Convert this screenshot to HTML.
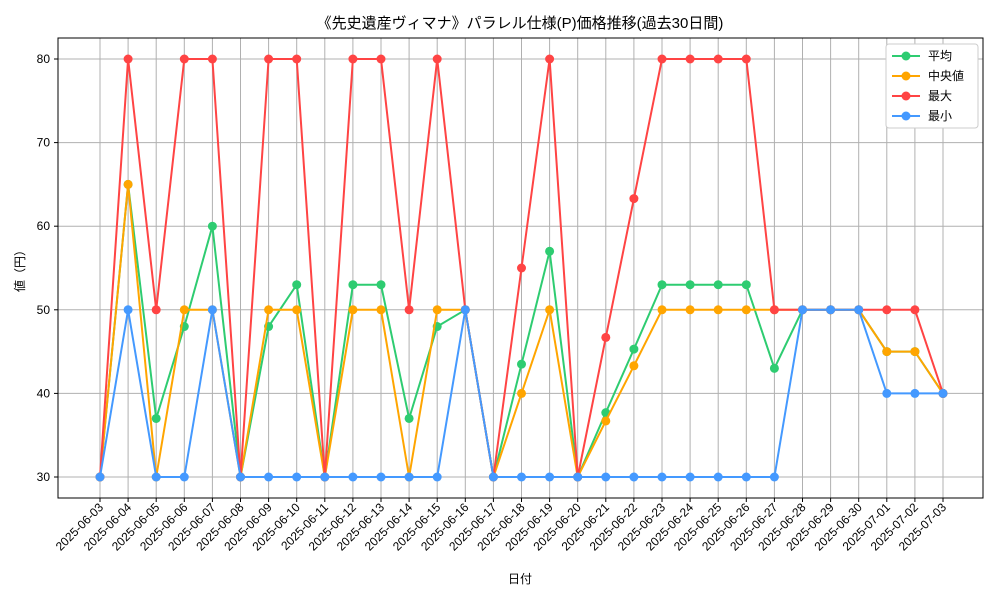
<!DOCTYPE html>
<html><head><meta charset="utf-8"><style>body{margin:0;background:#fff}svg{font-family:"Liberation Sans","Noto Sans CJK JP",sans-serif}</style></head>
<body>
<svg id="c" width="1000" height="600"></svg>
<script>
const dates=["2025-06-03","2025-06-04","2025-06-05","2025-06-06","2025-06-07","2025-06-08","2025-06-09","2025-06-10","2025-06-11","2025-06-12","2025-06-13","2025-06-14","2025-06-15","2025-06-16","2025-06-17","2025-06-18","2025-06-19","2025-06-20","2025-06-21","2025-06-22","2025-06-23","2025-06-24","2025-06-25","2025-06-26","2025-06-27","2025-06-28","2025-06-29","2025-06-30","2025-07-01","2025-07-02","2025-07-03"];
const avgVals=[30,65,37,48,60,30,48,53,30,53,53,37,48,50,30,43.5,57,30,37.7,45.3,53,53,53,53,43,50,50,50,45,45,40];
const medVals=[30,65,30,50,50,30,50,50,30,50,50,30,50,50,30,40,50,30,36.7,43.3,50,50,50,50,50,50,50,50,45,45,40];
const maxVals=[30,80,50,80,80,30,80,80,30,80,80,50,80,50,30,55,80,30,46.7,63.3,80,80,80,80,50,50,50,50,50,50,40];
const minVals=[30,50,30,30,50,30,30,30,30,30,30,30,30,50,30,30,30,30,30,30,30,30,30,30,30,50,50,50,40,40,40];
const yTicks=[30,40,50,60,70,80];
const series=[["平均","#2ecc71",avgVals,"avg"],["中央値","#ffa500",medVals,"median"],["最大","#ff4444",maxVals,"max"],["最小","#4499ff",minVals,"min"]];
const L=58,R=983,T=38,B=498;
const xs=i=>100+i*(943-100)/(dates.length-1);
const ys=v=>477-(v-30)*(477-59)/50;
const svg=document.getElementById('c');const NS='http://www.w3.org/2000/svg';
function mk(t,a,p){const e=document.createElementNS(NS,t);for(const k in a)e.setAttribute(k,a[k]);(p||svg).appendChild(e);return e;}
// grid
dates.forEach((d,i)=>{const g=mk('line',{x1:xs(i),x2:xs(i),y1:T,y2:B,stroke:'#b0b0b0','stroke-width':1});


const tk=mk('line',{x1:xs(i),x2:xs(i),y1:B,y2:B+4,stroke:'#000'});


const t=mk('text',{x:xs(i)+4,y:B+10,'font-size':12,'text-anchor':'end',transform:`rotate(-45 ${xs(i)+4} ${B+10})`});t.textContent=d;

});
yTicks.forEach(v=>{const g=mk('line',{x1:L,x2:R,y1:ys(v),y2:ys(v),stroke:'#b0b0b0','stroke-width':1});


const tk=mk('line',{x1:L-4,x2:L,y1:ys(v),y2:ys(v),stroke:'#000'});


const t=mk('text',{x:L-8,y:ys(v)+4,'font-size':12,'text-anchor':'end'});t.textContent=v;

});
const fr=mk('rect',{x:L,y:T,width:R-L,height:B-T,fill:'none',stroke:'#000'});


series.forEach(([n,c,vals,key])=>{const g=mk('g',{});


const pl=mk('polyline',{points:vals.map((v,i)=>xs(i)+','+ys(v)).join(' '),fill:'none',stroke:c,'stroke-width':2},g);


vals.forEach((v,i)=>{const p=mk('circle',{cx:xs(i),cy:ys(v),r:4.5,fill:c},g);

});});
// title & labels
let t=mk('text',{x:520,y:28,'font-size':15,'text-anchor':'middle'});t.textContent='《先史遺産ヴィマナ》パラレル仕様(P)価格推移(過去30日間)';


t=mk('text',{x:520,y:583,'font-size':12,'text-anchor':'middle'});t.textContent='日付';


t=mk('text',{x:24,y:268,'font-size':12,'text-anchor':'middle',transform:'rotate(-90 24 268)'});t.textContent='値（円）';


// legend
const lg=mk('g',{});


mk('rect',{x:886,y:44,width:92,height:84,rx:3,fill:'#fff',stroke:'#ccc'},lg);
series.forEach(([n,c,vals,key],k)=>{const y=56+k*20;const e=mk('g',{},lg);


mk('line',{x1:892,x2:920,y1:y,y2:y,stroke:c,'stroke-width':2},e);mk('circle',{cx:906,cy:y,r:4.5,fill:c},e);
const tx=mk('text',{x:928,y:y+4,'font-size':12},e);tx.textContent=(key==='median'?' ':'')+n;});
</script>
</body></html>
